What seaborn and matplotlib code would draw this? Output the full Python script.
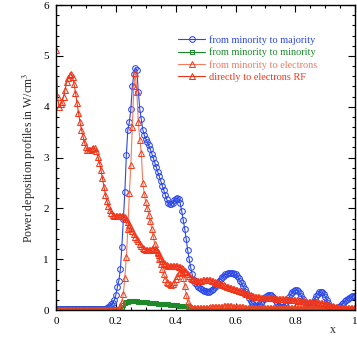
import numpy as np
import pandas as pd
import matplotlib
matplotlib.use("Agg")
import matplotlib.pyplot as plt
import seaborn as sns

# Normalised radius grid (step 0.005)
x = np.linspace(0.0, 1.0, 201)

# Power deposited from minority ions to majority ions
minority_to_majority = [
    0.02, 0.02, 0.02, 0.02, 0.02, 0.02, 0.02, 0.02, 0.02, 0.02,
    0.02, 0.02, 0.02, 0.02, 0.02, 0.02, 0.02, 0.02, 0.02, 0.02,
    0.02, 0.02, 0.02, 0.02, 0.02, 0.02, 0.02, 0.02, 0.02, 0.02,
    0.02, 0.02, 0.02, 0.02, 0.04, 0.06, 0.08, 0.11, 0.14, 0.20,
    0.30, 0.45, 0.58, 0.80, 1.25, 1.80, 2.33, 3.05, 3.55, 3.70,
    3.95, 4.40, 4.65, 4.77, 4.72, 4.30, 3.95, 3.75, 3.55, 3.44,
    3.37, 3.30, 3.24, 3.16, 3.08, 2.99, 2.90, 2.81, 2.72, 2.63,
    2.54, 2.45, 2.36, 2.27, 2.18, 2.11, 2.08, 2.08, 2.11, 2.16,
    2.19, 2.20, 2.18, 2.10, 1.95, 1.78, 1.60, 1.40, 1.18, 1.00,
    0.84, 0.70, 0.60, 0.53, 0.49, 0.46, 0.44, 0.42, 0.40, 0.38,
    0.37, 0.36, 0.36, 0.37, 0.39, 0.42, 0.46, 0.50, 0.54, 0.58,
    0.62, 0.65, 0.68, 0.70, 0.71, 0.72, 0.72, 0.72, 0.72, 0.71,
    0.70, 0.67, 0.63, 0.58, 0.53, 0.47, 0.41, 0.35, 0.29, 0.23,
    0.18, 0.14, 0.11, 0.09, 0.08, 0.09, 0.11, 0.14, 0.18, 0.22,
    0.26, 0.28, 0.30, 0.30, 0.29, 0.26, 0.22, 0.17, 0.13, 0.09,
    0.07, 0.06, 0.07, 0.10, 0.15, 0.20, 0.26, 0.31, 0.35, 0.38,
    0.39, 0.39, 0.37, 0.33, 0.28, 0.22, 0.16, 0.11, 0.07, 0.06,
    0.07, 0.10, 0.15, 0.21, 0.27, 0.32, 0.35, 0.36, 0.35, 0.31,
    0.26, 0.20, 0.14, 0.09, 0.06, 0.04, 0.03, 0.03, 0.04, 0.06,
    0.08, 0.11, 0.14, 0.17, 0.20, 0.22, 0.24, 0.26, 0.27, 0.28,
    0.28,
]

# Power kept by the minority species
minority_to_minority = [
    0.02, 0.02, 0.02, 0.02, 0.02, 0.02, 0.02, 0.02, 0.02, 0.02,
    0.02, 0.02, 0.02, 0.02, 0.02, 0.02, 0.02, 0.02, 0.02, 0.02,
    0.02, 0.02, 0.02, 0.02, 0.02, 0.02, 0.02, 0.02, 0.02, 0.02,
    0.02, 0.02, 0.02, 0.02, 0.02, 0.02, 0.02, 0.02, 0.02, 0.02,
    0.02, 0.02, 0.02, 0.03, 0.05, 0.10, 0.13, 0.15, 0.16, 0.17,
    0.17, 0.17, 0.17, 0.17, 0.17, 0.16, 0.16, 0.16, 0.15, 0.15,
    0.15, 0.15, 0.14, 0.14, 0.14, 0.13, 0.13, 0.13, 0.12, 0.12,
    0.12, 0.12, 0.11, 0.11, 0.11, 0.11, 0.10, 0.10, 0.10, 0.10,
    0.10, 0.10, 0.09, 0.09, 0.09, 0.09, 0.09, 0.09, 0.08, 0.06,
    0.04, 0.02, 0.01, 0.01, 0.01, 0.01, 0.01, 0.01, 0.01, 0.01,
    0.01, 0.01, 0.01, 0.01, 0.01, 0.01, 0.01, 0.01, 0.01, 0.01,
    0.01, 0.01, 0.01, 0.01, 0.01, 0.01, 0.01, 0.01, 0.01, 0.01,
    0.01, 0.01, 0.01, 0.01, 0.01, 0.01, 0.01, 0.01, 0.01, 0.01,
    0.01, 0.01, 0.01, 0.01, 0.01, 0.01, 0.01, 0.01, 0.01, 0.01,
    0.01, 0.01, 0.01, 0.01, 0.01, 0.01, 0.01, 0.01, 0.01, 0.01,
    0.01, 0.01, 0.01, 0.01, 0.01, 0.01, 0.01, 0.01, 0.01, 0.01,
    0.01, 0.01, 0.01, 0.01, 0.01, 0.01, 0.01, 0.01, 0.01, 0.01,
    0.01, 0.01, 0.01, 0.01, 0.01, 0.01, 0.01, 0.01, 0.01, 0.01,
    0.01, 0.01, 0.01, 0.01, 0.01, 0.01, 0.01, 0.01, 0.01, 0.01,
    0.01, 0.01, 0.01, 0.01, 0.01, 0.01, 0.01, 0.01, 0.01, 0.01,
    0.01,
]

# Power transferred from minority ions to electrons
minority_to_electrons = [
    0.01, 0.01, 0.01, 0.01, 0.01, 0.01, 0.01, 0.01, 0.01, 0.01,
    0.01, 0.01, 0.01, 0.01, 0.01, 0.01, 0.01, 0.01, 0.01, 0.01,
    0.01, 0.01, 0.01, 0.01, 0.01, 0.01, 0.01, 0.01, 0.01, 0.01,
    0.01, 0.01, 0.01, 0.01, 0.01, 0.01, 0.01, 0.01, 0.01, 0.01,
    0.01, 0.01, 0.02, 0.08, 0.16, 0.32, 0.64, 1.05, 1.60, 2.30,
    2.85, 3.60, 4.40, 4.66, 4.30, 3.70, 3.35, 3.10, 2.50, 2.28,
    2.12, 2.00, 1.88, 1.75, 1.60, 1.45, 1.30, 1.20, 1.12, 1.00,
    0.90, 0.80, 0.70, 0.62, 0.56, 0.53, 0.51, 0.50, 0.52, 0.56,
    0.62, 0.68, 0.72, 0.74, 0.72, 0.64, 0.48, 0.30, 0.16, 0.09,
    0.06, 0.05, 0.05, 0.05, 0.05, 0.05, 0.05, 0.05, 0.05, 0.05,
    0.05, 0.05, 0.05, 0.06, 0.06, 0.06, 0.07, 0.07, 0.07, 0.07,
    0.07, 0.07, 0.08, 0.08, 0.08, 0.08, 0.08, 0.08, 0.07, 0.07,
    0.07, 0.07, 0.06, 0.06, 0.06, 0.06, 0.05, 0.05, 0.05, 0.05,
    0.05, 0.05, 0.05, 0.05, 0.05, 0.05, 0.05, 0.05, 0.05, 0.05,
    0.05, 0.05, 0.05, 0.05, 0.05, 0.05, 0.05, 0.05, 0.05, 0.05,
    0.05, 0.05, 0.05, 0.05, 0.05, 0.05, 0.05, 0.05, 0.05, 0.05,
    0.04, 0.04, 0.04, 0.04, 0.04, 0.04, 0.04, 0.04, 0.04, 0.04,
    0.04, 0.04, 0.04, 0.04, 0.04, 0.04, 0.04, 0.04, 0.04, 0.04,
    0.04, 0.04, 0.04, 0.04, 0.04, 0.04, 0.04, 0.04, 0.04, 0.04,
    0.04, 0.04, 0.04, 0.04, 0.04, 0.04, 0.04, 0.04, 0.04, 0.04,
    0.04,
]

# RF power absorbed directly by electrons
direct_to_electrons = [
    5.12, 4.20, 4.00, 4.05, 4.10, 4.20, 4.33, 4.48, 4.56, 4.62,
    4.64, 4.58, 4.45, 4.28, 4.08, 3.88, 3.70, 3.55, 3.42, 3.30,
    3.20, 3.15, 3.14, 3.14, 3.16, 3.19, 3.18, 3.12, 3.02, 2.90,
    2.76, 2.60, 2.43, 2.27, 2.14, 2.05, 1.97, 1.91, 1.87, 1.85,
    1.85, 1.85, 1.85, 1.86, 1.86, 1.85, 1.83, 1.79, 1.74, 1.68,
    1.61, 1.55, 1.49, 1.44, 1.40, 1.35, 1.30, 1.26, 1.22, 1.20,
    1.18, 1.18, 1.18, 1.19, 1.20, 1.21, 1.21, 1.19, 1.15, 1.09,
    1.03, 0.97, 0.93, 0.90, 0.88, 0.87, 0.86, 0.86, 0.86, 0.86,
    0.86, 0.86, 0.85, 0.84, 0.82, 0.80, 0.77, 0.74, 0.70, 0.67,
    0.64, 0.62, 0.60, 0.59, 0.58, 0.58, 0.58, 0.58, 0.59, 0.59,
    0.59, 0.60, 0.60, 0.59, 0.58, 0.57, 0.56, 0.54, 0.53, 0.52,
    0.51, 0.50, 0.49, 0.47, 0.46, 0.45, 0.44, 0.43, 0.42, 0.41,
    0.40, 0.39, 0.38, 0.37, 0.36, 0.35, 0.34, 0.32, 0.31, 0.30,
    0.29, 0.28, 0.27, 0.26, 0.26, 0.25, 0.25, 0.24, 0.24, 0.24,
    0.24, 0.24, 0.24, 0.23, 0.23, 0.23, 0.23, 0.22, 0.22, 0.22,
    0.22, 0.21, 0.21, 0.21, 0.21, 0.20, 0.20, 0.20, 0.20, 0.19,
    0.19, 0.19, 0.18, 0.18, 0.17, 0.17, 0.17, 0.16, 0.16, 0.16,
    0.16, 0.15, 0.15, 0.15, 0.15, 0.14, 0.14, 0.13, 0.13, 0.12,
    0.11, 0.11, 0.10, 0.09, 0.08, 0.08, 0.07, 0.06, 0.06, 0.05,
    0.05, 0.04, 0.04, 0.04, 0.03, 0.03, 0.03, 0.03, 0.03, 0.03,
    0.03,
]

labels = [
    "from minority to majority",
    "from minority to minority",
    "from minority to electrons",
    "directly to electrons RF",
]
series = [minority_to_majority, minority_to_minority,
          minority_to_electrons, direct_to_electrons]
line_colors = ["#2b48e6", "#1d8a2a", "#f47a62", "#f0361a"]
edge_colors = ["#2b48e6", "#1d8a2a", "#f0401f", "#f0361a"]
text_colors = ["#2b48e6", "#1d8a2a", "#f47a62", "#f0361a"]
markers = ["o", "s", "^", "^"]
marker_sizes = [4.1, 3.5, 4.2, 4.2]

sns.set_style("ticks")
plt.rcParams["font.family"] = ["Liberation Serif", "DejaVu Serif"]
plt.rcParams["mathtext.fontset"] = "stix"

fig = plt.figure(figsize=(3.57, 3.40), dpi=100)
ax = fig.add_axes([0.157, 0.088, 0.838, 0.897])

for vals, lab, lc, ec, mk, ms in zip(series, labels, line_colors,
                                     edge_colors, markers, marker_sizes):
    df = pd.DataFrame({"x": x, "p": vals})
    sns.lineplot(data=df, x="x", y="p", ax=ax, color=lc, linewidth=0.8,
                 marker=mk, markersize=ms, markerfacecolor="none",
                 markeredgecolor=ec, markeredgewidth=0.75, label=lab,
                 estimator=None, sort=False)

ax.set_xlim(0, 1)
ax.set_ylim(0, 6)
ax.set_xticks([0, 0.2, 0.4, 0.6, 0.8, 1.0])
ax.set_xticklabels(["0", "0.2", "0.4", "0.6", "0.8", "1"])
ax.set_yticks(range(7))
ax.xaxis.set_minor_locator(matplotlib.ticker.MultipleLocator(0.05))
ax.yaxis.set_minor_locator(matplotlib.ticker.MultipleLocator(0.2))
ax.tick_params(which="both", direction="in", top=True, right=True,
               labelsize=8, colors="black", width=0.8)
ax.tick_params(which="major", length=5, pad=5)
ax.tick_params(which="minor", length=2.5)
for sp in ax.spines.values():
    sp.set_linewidth(1.0)
    sp.set_color("black")

ax.set_ylabel("Power deposition profiles in W/cm$^3$", fontsize=8.5)
ax.set_xlabel("x", fontsize=8.5)
ax.xaxis.set_label_coords(0.925, -0.045)

leg = ax.legend(loc="upper left", bbox_to_anchor=(0.395, 0.915),
                frameon=False, fontsize=7.4, handlelength=2.6,
                handletextpad=0.35, labelspacing=0.28, borderaxespad=0.0)
for txt, c in zip(leg.get_texts(), text_colors):
    txt.set_color(c)

fig.savefig("out.png", dpi=100)
